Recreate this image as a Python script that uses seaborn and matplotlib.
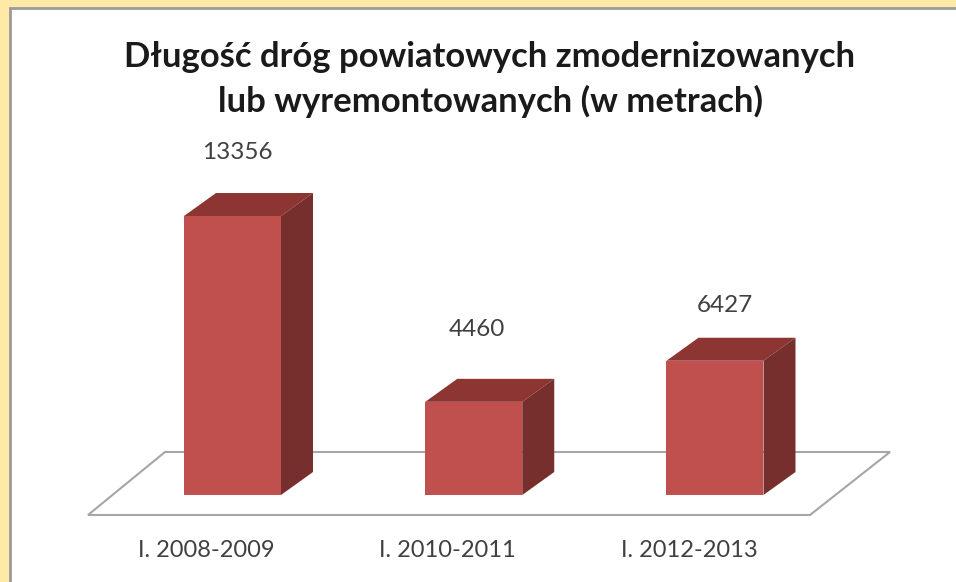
import matplotlib
matplotlib.use("Agg")
import matplotlib.pyplot as plt
import matplotlib.transforms as mtrans
from matplotlib.patches import Polygon, Rectangle
import pandas as pd
import seaborn as sns

TITLE = "Długość dróg powiatowych zmodernizowanych\nlub wyremontowanych (w metrach)"
categories = ["I. 2008-2009", "I. 2010-2011", "I. 2012-2013"]
values = [13356, 4460, 6427]
label_gap_px = [63, 72, 55]
label_dx_px = [5, 3, 10]

W, H = 956, 582
FRONT, TOP, SIDE = "#C0504D", "#8C3533", "#772F2D"
FRAME, LINE, TXT = "#FFE9A6", "#A6A6A6", "#404040"

sns.set_theme(style="white", rc={"font.family": ["Lato", "DejaVu Sans"]})
fig = plt.figure(figsize=(W / 100, H / 100), dpi=100, facecolor=FRAME)
fig.patches.append(Rectangle((10 / W, -0.02), 1.1, 1.02 - 8 / H, transform=fig.transFigure,
                             fc="white", ec="#9A9A9A", lw=2, zorder=-1))

ax = fig.add_axes([0, 1 - 515 / H, 1, 515 / H])
ax.patch.set_alpha(0)
df = pd.DataFrame({"period": categories, "length": values})
sns.barplot(data=df, x="period", y="length", ax=ax, color=FRONT, saturation=1,
            width=97 / 241.25, zorder=3)

px_x = 241.25        # pixels per category step
px_y = 279 / max(values)
ax.set_xlim(-232.5 / px_x, (W - 232.5) / px_x)
ax.set_ylim(-20 / px_y, 495 / px_y)
sns.despine(ax=ax, left=True, bottom=True)
ax.set_yticks([])
ax.set_xlabel("")
ax.set_ylabel("")
ax.tick_params(axis="x", length=0, pad=18, labelsize=17, labelcolor=TXT)
shift = mtrans.ScaledTranslation(-26 / 100, 0, fig.dpi_scale_trans)
for t in ax.get_xticklabels():
    t.set_transform(t.get_transform() + shift)

# 3-D extrusion of each bar, derived from the bar drawn by seaborn
ddx, ddy = 32 / px_x, 23 / px_y
for bar, v, gap, dx in zip(ax.patches, values, label_gap_px, label_dx_px):
    bar.set_edgecolor("none")
    x0, x1 = bar.get_x(), bar.get_x() + bar.get_width()
    ax.add_patch(Polygon([(x0, v), (x1, v), (x1 + ddx, v + ddy), (x0 + ddx, v + ddy)],
                         fc=TOP, ec="none", zorder=3))
    ax.add_patch(Polygon([(x1, 0), (x1, v), (x1 + ddx, v + ddy), (x1 + ddx, ddy)],
                         fc=SIDE, ec="none", zorder=3))
    ax.annotate(str(v), xy=((x0 + x1) / 2, v), xytext=(dx, gap), textcoords="offset pixels",
                ha="center", va="center", fontsize=17.5, color=TXT, zorder=4)

# floor plane
fx0, fx1 = -232.5 / px_x + 88 / px_x, -232.5 / px_x + 810 / px_x
fdx, fdy = 78 / px_x, 63 / px_y
fy = -20 / px_y
ax.add_patch(Polygon([(fx0, fy), (fx1, fy), (fx1 + fdx + 2 / px_x, fy + fdy), (fx0 + fdx - 1 / px_x, fy + fdy)],
                     closed=True, fc="white", ec=LINE, lw=1.5, zorder=1, clip_on=False))

fig.text(490 / W, 1 - 79.5 / H, TITLE, ha="center", va="center", fontsize=24.9, fontweight="bold",
         color="#1a1a1a", linespacing=1.47)
fig.savefig("out.png", dpi=100, facecolor=FRAME)
